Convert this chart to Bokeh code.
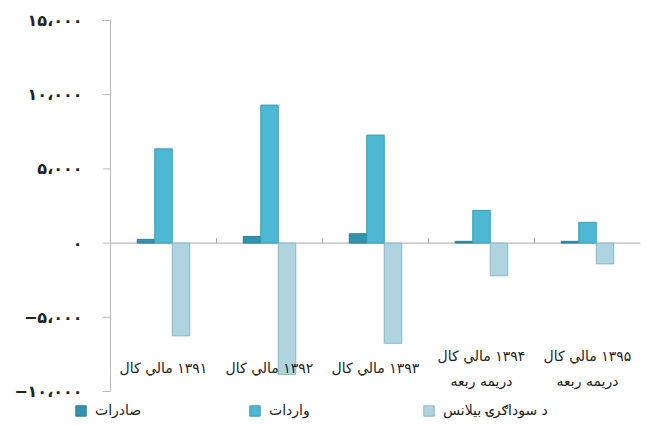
import numpy as np
from bokeh.plotting import figure
from bokeh.models import Range1d, Legend, LegendItem, ColumnDataSource
from bokeh.core.properties import value
from bokeh.embed import file_html
from bokeh.resources import INLINE

# ---- data ----
categories = ["۱۳۹۱ مالي کال", "۱۳۹۲ مالي کال", "۱۳۹۳ مالي کال",
              "۱۳۹۴ مالي کال\nدريمه ربعه", "۱۳۹۵ مالي کال\nدريمه ربعه"]
exports = [250, 450, 630, 120, 120]
imports = [6350, 9300, 7280, 2200, 1400]
balance = [-6250, -8850, -6750, -2200, -1400]
series_names = ["صادرات", "واردات", "د سوداګرۍ بيلانس"]
y_ticks = [-10000, -5000, 0, 5000, 10000, 15000]
y_tick_labels = ["−۱۰،۰۰۰", "−۵،۰۰۰", "۰", "۵،۰۰۰", "۱۰،۰۰۰", "۱۵،۰۰۰"]

FONT = "DejaVu Sans"
fills = ["#3193ae", "#4cb8d3", "#afd4df"]
lines = ["#2a7f97", "#3a9cb7", "#86b9c9"]
AXIS_COLOR = "#bbbbbb"

# layout (pixels)
W, H = 661, 425
LEFT, RIGHT, TOP, BOTTOM = 110, 640, 20, 391
n = len(categories)
upp = (y_ticks[-1] - y_ticks[0]) / (BOTTOM - TOP)   # y units per pixel
xpp = n / (RIGHT - LEFT)                            # x units per pixel

centers = np.arange(n) + 0.5
bw = 0.165

p = figure(width=W, height=H, output_backend="svg", toolbar_location=None,
           x_range=Range1d(-LEFT * xpp, n),
           y_range=Range1d(y_ticks[0] - (H - BOTTOM) * upp, y_ticks[-1] + TOP * upp),
           x_axis_location=None, y_axis_location=None,
           min_border_left=0, min_border_right=W - RIGHT, min_border_top=0,
           min_border_bottom=0)
p.outline_line_color = None
p.xgrid.visible = False
p.ygrid.visible = False
p.background_fill_color = "white"
p.border_fill_color = "white"

# y axis: line, outward ticks and labels
p.segment(x0=[0], y0=[y_ticks[0]], x1=[0], y1=[y_ticks[-1]],
          line_color=AXIS_COLOR, line_width=1)
p.segment(x0=[-8 * xpp] * len(y_ticks), y0=y_ticks, x1=[0] * len(y_ticks), y1=y_ticks,
          line_color=AXIS_COLOR, line_width=1)
p.text(x=[-28 * xpp] * len(y_ticks), y=y_ticks, text=y_tick_labels,
       text_align="right", text_baseline="middle", text_font=value(FONT),
       text_font_size="16px", text_font_style="bold", text_color="#222222")

# zero line with small upward ticks between the categories
p.segment(x0=[0], y0=[0], x1=[n], y1=[0], line_color="#aaaaaa", line_width=1)
boundaries = np.arange(1, n)
p.segment(x0=boundaries, y0=0, x1=boundaries, y1=5 * upp,
          line_color="#aaaaaa", line_width=1)

renderers = []
for k, vals in enumerate([exports, imports, balance]):
    src = ColumnDataSource(dict(x=centers + (k - 1) * bw, top=vals))
    r = p.vbar(x="x", top="top", bottom=0, width=bw, source=src,
               fill_color=fills[k], line_color=lines[k], line_width=1)
    renderers.append(r)

# category labels, right-to-left
labels = ["\n".join("\u200f" + line for line in c.split("\n")) for c in categories]
p.text(x=centers, y=[-8450] * n, text=labels, text_align="center",
       text_baseline="middle", text_font=value(FONT), text_font_size="14px",
       text_line_height=1.55, text_color="#222222")

legend = Legend(items=[LegendItem(label=series_names[k], renderers=[renderers[k]])
                       for k in range(3)],
                orientation="horizontal", location=(74, 7),
                glyph_width=13, glyph_height=13, label_height=13,
                label_width=153, spacing=0, padding=0, margin=0,
                label_standoff=8, border_line_color=None,
                background_fill_alpha=0,
                label_text_font=FONT, label_text_font_size="14px",
                label_text_color="#222222")
p.add_layout(legend, "center")

open("out.html", "w").write(file_html(p, INLINE))
